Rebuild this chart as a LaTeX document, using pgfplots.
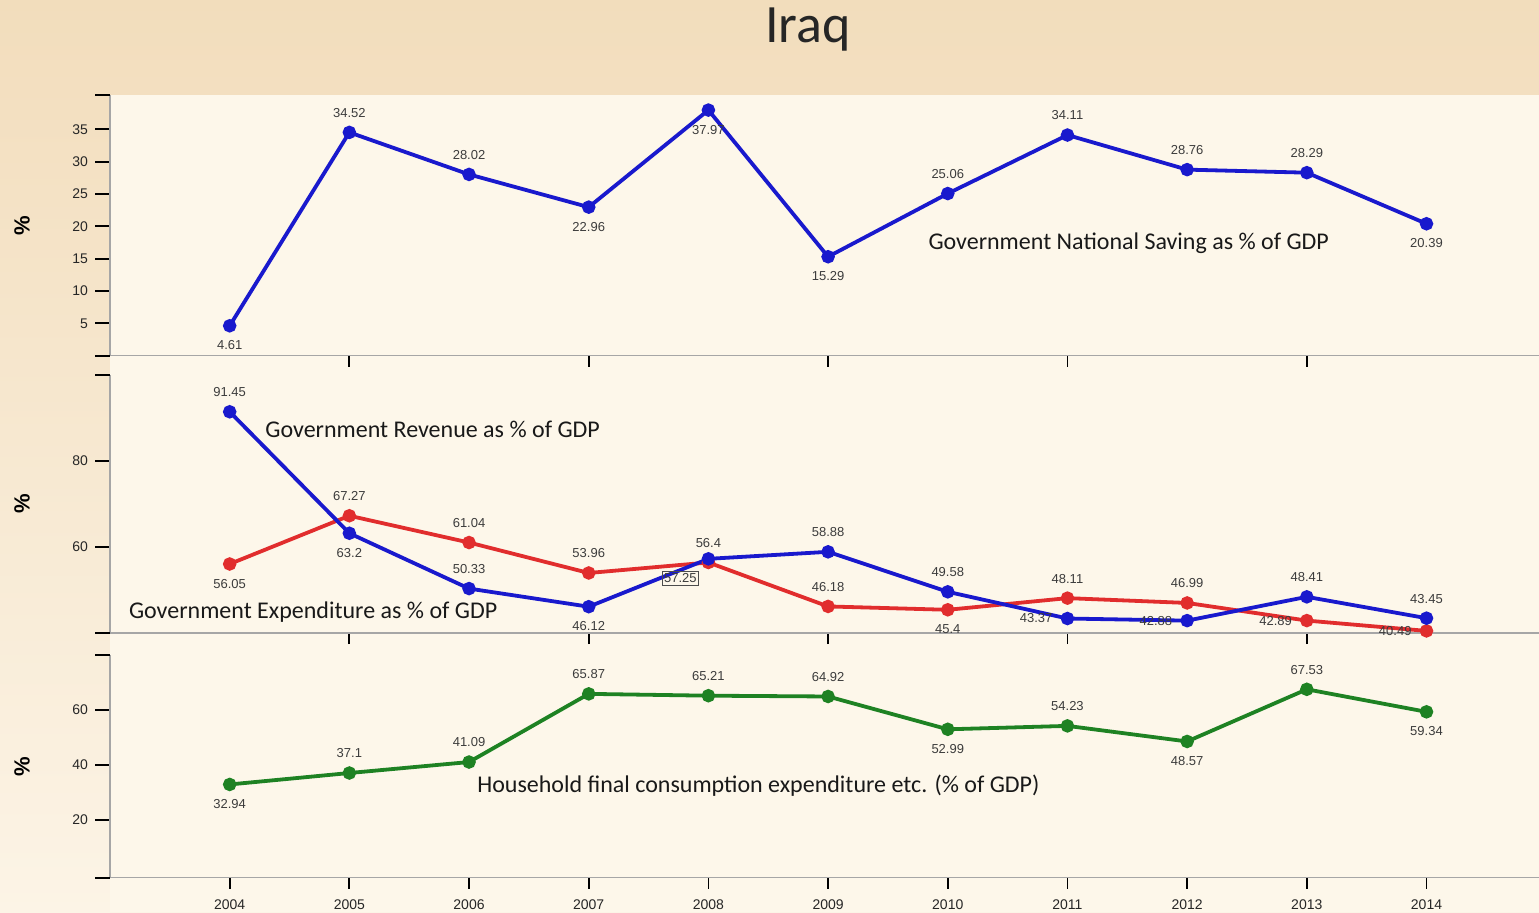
\documentclass[border=0pt]{standalone}
\usepackage{pgfplots}
\pgfplotsset{compat=1.18}
\usepackage{pgfplotstable}
\usepackage{fontspec}
\setmainfont{Liberation Sans}
\newfontfamily\calfont{Carlito}
\definecolor{tanc}{RGB}{242,221,188}
\definecolor{lightc}{RGB}{252,244,230}
\definecolor{cream}{RGB}{253,247,234}
\definecolor{ablue}{RGB}{25,25,205}
\definecolor{ared}{RGB}{225,45,45}
\definecolor{agreen}{RGB}{30,130,35}
\definecolor{labc}{RGB}{60,60,60}

% a = anchor angle of the label node (270: label above, 90: below, 0: left)
% o = opacity of a box drawn around the label
\pgfplotstableread{
x y lab a o
2004 4.61 4.61 90 0
2005 34.52 34.52 270 0
2006 28.02 28.02 270 0
2007 22.96 22.96 90 0
2008 37.97 37.97 90 0
2009 15.29 15.29 90 0
2010 25.06 25.06 270 0
2011 34.11 34.11 270 0
2012 28.76 28.76 270 0
2013 28.29 28.29 270 0
2014 20.39 20.39 90 0
}\saving

\pgfplotstableread{
x y lab a o
2004 91.45 91.45 270 0
2005 63.2 63.2 90 0
2006 50.33 50.33 270 0
2007 46.12 46.12 90 0
2008 57.25 57.25 35 1
2009 58.88 58.88 270 0
2010 49.58 49.58 270 0
2011 43.37 43.37 0 0
2012 42.88 42.88 0 0
2013 48.41 48.41 270 0
2014 43.45 43.45 270 0
}\revenue

\pgfplotstableread{
x y lab a o
2004 56.05 56.05 90 0
2005 67.27 67.27 270 0
2006 61.04 61.04 270 0
2007 53.96 53.96 270 0
2008 56.4 56.4 270 0
2009 46.18 46.18 270 0
2010 45.4 45.4 90 0
2011 48.11 48.11 270 0
2012 46.99 46.99 270 0
2013 42.89 42.89 0 0
2014 40.49 40.49 0 0
}\expend

\pgfplotstableread{
x y lab a o
2004 32.94 32.94 90 0
2005 37.1 37.1 270 0
2006 41.09 41.09 270 0
2007 65.87 65.87 270 0
2008 65.21 65.21 270 0
2009 64.92 64.92 270 0
2010 52.99 52.99 90 0
2011 54.23 54.23 270 0
2012 48.57 48.57 90 0
2013 67.53 67.53 270 0
2014 59.34 59.34 90 0
}\household

\tikzset{annot/.style={anchor=west, font=\calfont\fontsize{12}{14}\selectfont, text=black!90}}

\pgfplotsset{
  panel/.style={
    scale only axis, width=714.5pt, xmin=2003, xmax=2014.94,
    axis lines*=left,
    axis line style={draw=gray!70,-,line width=0.6pt},
    tick align=outside, clip=false,
    major tick length=7.5pt,
    tick style={black,line width=0.9pt},
    xtick style={/pgfplots/major tick length=5.5pt},
    ticklabel style={font=\fontsize{7}{8}\selectfont, text=black!85},
    /pgf/number format/assume math mode=true,
    /pgf/number format/1000 sep={},
    ylabel={\%},
    ylabel style={at={(axis description cs:-0.0616,0.5)}, anchor=center,
      font=\fontsize{11}{12}\selectfont\bfseries},
  },
  lbl/.style={
    nodes near coords={\pgfplotspointmeta},
    point meta=explicit symbolic,
    visualization depends on={\thisrow{a}\as\anc},
    visualization depends on={\thisrow{o}\as\bop},
    every node near coord/.append style={anchor=\anc, draw=black!70, line width=0.4pt,
      draw opacity=\bop,
      font=\fontsize{6.5}{7}\selectfont, text=labc, inner sep=1pt, outer sep=6.5pt},
  },
  ser/.style={line width=1.9pt, mark=*, mark size=2.4pt, color=#1,
    mark options={solid, fill=#1, draw=#1}},
}

\begin{document}
\begin{tikzpicture}
\useasboundingbox (0,0) rectangle (769.5pt,-456pt);
\shade[top color=tanc, bottom color=lightc] (0,0) rectangle (769.5pt,-456pt);
\fill[cream] (55pt,-47.5pt) rectangle (769.5pt,-456pt);
\node[font=\calfont\fontsize{27}{30}\selectfont, text=black!85] at (404pt,-15pt) {Iraq};

% top panel
\begin{axis}[panel, at={(55pt,-47.5pt)}, anchor=north west, height=130.3pt,
  ymin=0, ymax=40.3, ytick={5,10,...,35},
  extra y ticks={0,40.3}, extra y tick labels={},
  xtick={2005,2007,2009,2011,2013}, xticklabels={}]
\addplot[ser=ablue, lbl] table[x=x,y=y,meta=lab]{\saving};
\node[annot] at (axis cs:2009.78,17.37) {Government National Saving as \% of GDP};
\end{axis}

% middle panel
\begin{axis}[panel, at={(55pt,-187.5pt)}, anchor=north west, height=129pt,
  ymin=40, ymax=100, ytick={60,80},
  extra y ticks={40,100}, extra y tick labels={},
  xtick={2005,2007,2009,2011,2013}, xticklabels={}]
\addplot[ser=ared, lbl] table[x=x,y=y,meta=lab]{\expend};
\addplot[ser=ablue, lbl] table[x=x,y=y,meta=lab]{\revenue};
\node[annot] at (axis cs:2004.24,87.44) {Government Revenue as \% of GDP};
\node[annot] at (axis cs:2003.10,44.88) {Government Expenditure as \% of GDP};
\end{axis}

% bottom panel
\begin{axis}[panel, at={(55pt,-327.5pt)}, anchor=north west, height=111.4pt,
  ymin=-1, ymax=80, ytick={20,40,60},
  extra y ticks={-1,80}, extra y tick labels={},
  xtick={2004,2005,...,2014}]
\addplot[ser=agreen, lbl] table[x=x,y=y,meta=lab]{\household};
\node[annot] at (axis cs:2006.01,32.45) {Household final consumption expenditure etc. (\% of GDP)};
\end{axis}
\end{tikzpicture}
\end{document}
